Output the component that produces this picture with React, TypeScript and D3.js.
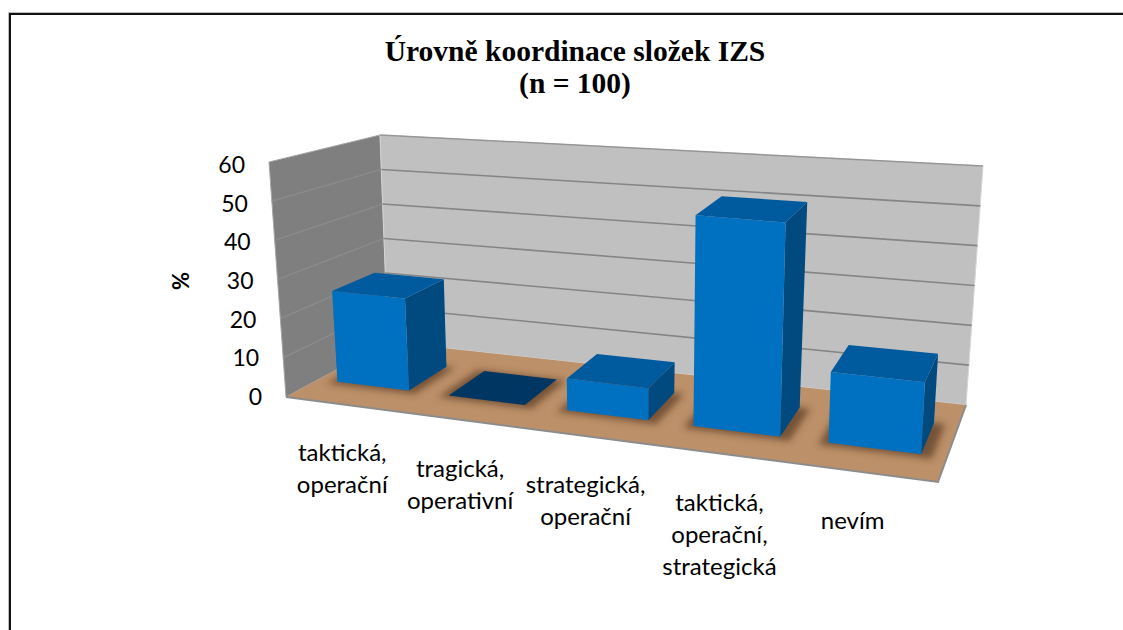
import React from "react";
import * as d3 from "d3";

const titleLines = ["Úrovně koordinace složek IZS", "(n = 100)"];
const categories = ["a", "b", "c", "d", "e"];
const categoryLabels = [
  ["taktická,", "operační"],
  ["tragická,", "operativní"],
  ["strategická,", "operační"],
  ["taktická,", "operační,", "strategická"],
  ["nevím"],
];
const labelShift = [0, 0, 0, 0, -10];
const values = [24, 0, 8, 52, 17];
const yTicks = [0, 10, 20, 30, 40, 50, 60];
const yTitle = "%";

type Pt = [number, number];
const bFL: Pt = [286, 397], bFR: Pt = [938, 482], bBL: Pt = [388, 342], bBR: Pt = [966, 405];
const tFL: Pt = [269, 162], tFR: Pt = [950, 220], tBL: Pt = [380, 135], tBR: Pt = [983, 166];

const xBand = d3.scaleBand<string>().domain(categories).range([0, 1]).paddingInner(0.35).paddingOuter(0.175);
const yScale = d3.scaleLinear().domain([0, 60]).range([0, 1]);
const k = 0.85;
const warp = (u: number) => (k * u) / (1 + (k - 1) * u);
const mix = (a: Pt, b: Pt, t: number): Pt => [a[0] + (b[0] - a[0]) * t, a[1] + (b[1] - a[1]) * t];
// u along categories (0..1), val along value axis, w depth (0 front .. 1 back)
const project = (u: number, val: number, w: number): Pt => {
  const U = warp(u), V = yScale(val);
  const bottom = mix(mix(bFL, bFR, U), mix(bBL, bBR, U), w);
  const top = mix(mix(tFL, tFR, U), mix(tBL, tBR, U), w);
  return mix(bottom, top, V);
};
const line = d3.line<Pt>();
const poly = (pts: Pt[]) => line(pts) + "Z";

const W0 = 0.32, W1 = 0.73;
const LABEL_FONT = "Lato, 'Open Sans', sans-serif";

export default function App() {
  return (
    <svg width={1123} height={630} style={{ position: "absolute", left: 0, top: 0, background: "#fff" }}>
      <defs>
        <filter id="sh" x="-30%" y="-60%" width="160%" height="220%">
          <feGaussianBlur stdDeviation="3.5" />
        </filter>
      </defs>
      <path d="M8.5,630V12.5H1123" fill="none" stroke="#bdbdbd" strokeWidth={1} />
      <path d="M10,630V14H1123" fill="none" stroke="#111" strokeWidth={2} />

      {titleLines.map((t, i) => (
        <text key={t} x={575} y={61 + i * 32} textAnchor="middle" fontFamily="'Liberation Serif', serif" fontWeight={700} fontSize={29.5} fill="#000">{t}</text>
      ))}

      <path d={poly([project(0, 0, 0), project(0, 60, 0), project(0, 60, 1), project(0, 0, 1)])} fill="#7f7f7f" stroke="#a6a6a6" strokeWidth={1} />
      <path d={poly([project(0, 0, 1), project(0, 60, 1), project(1, 60, 1), project(1, 0, 1)])} fill="#c0c0c0" stroke="#d4d4d4" strokeWidth={1} />
      <path d={line([project(0, 60, 1), project(1, 60, 1)])!} stroke="#969696" strokeWidth={1.5} fill="none" />
      {yTicks.filter((t) => t > 0 && t < 60).map((t) => (
        <g key={t}>
          <path d={line([project(0, t, 0), project(0, t, 1)])!} stroke="#8d8d8d" strokeWidth={1.3} fill="none" />
          <path d={line([project(0, t, 1), project(1, t, 1)])!} stroke="#858585" strokeWidth={1.6} fill="none" />
        </g>
      ))}
      <path d={poly([project(0, 0, 0), project(0, 0, 1), project(1, 0, 1), project(1, 0, 0)])} fill="#bc9069" />
      <path d={line([project(0, 0, 0), project(1, 0, 0), project(1, 0, 1)])!} stroke="#8c8c8c" strokeWidth={2} fill="none" />

      {categories.map((c) => {
        const a = xBand(c)!, b = a + xBand.bandwidth();
        return (
          <path key={c} filter="url(#sh)" fill="#5a3a20" fillOpacity={0.72}
            d={poly([project(a - 0.012, 0, W0 - 0.04), project(b + 0.016, 0, W0 - 0.04), project(b + 0.016, 0, W1), project(a - 0.012, 0, W1)])} />
        );
      })}

      {categories.map((c, i) => {
        const a = xBand(c)!, b = a + xBand.bandwidth(), v = values[i];
        return (
          <g key={c}>
            <path fill="#004a80" d={poly([project(b, 0, W0), project(b, v, W0), project(b, v, W1), project(b, 0, W1)])} />
            <path fill="#0070c0" d={poly([project(a, 0, W0), project(a, v, W0), project(b, v, W0), project(b, 0, W0)])} />
            <path fill={v === 0 ? "#003662" : "#005a9e"} d={poly([project(a, v, W0), project(a, v, W1), project(b, v, W1), project(b, v, W0)])} />
          </g>
        );
      })}

      {yTicks.map((t) => {
        const p = project(0, t, 0);
        return (
          <text key={t} x={p[0] - 24} y={p[1] + 8 + (3 * t) / 60} textAnchor="end" fontFamily={LABEL_FONT} fontSize={23} fill="#000">{t}</text>
        );
      })}
      <text transform="translate(189,281) rotate(-90)" textAnchor="middle" fontFamily={LABEL_FONT} fontWeight={700} fontSize={22} fill="#000">{yTitle}</text>

      {categories.map((c, i) => {
        const uc = xBand(c)! + xBand.bandwidth() / 2;
        const p = project(uc, 0, 0);
        return categoryLabels[i].map((t, j) => (
          <text key={t + j} x={p[0] + labelShift[i]} y={p[1] + 57 + j * 32} textAnchor="middle" fontFamily={LABEL_FONT} fontSize={24} fill="#000">{t}</text>
        ));
      })}
    </svg>
  );
}
